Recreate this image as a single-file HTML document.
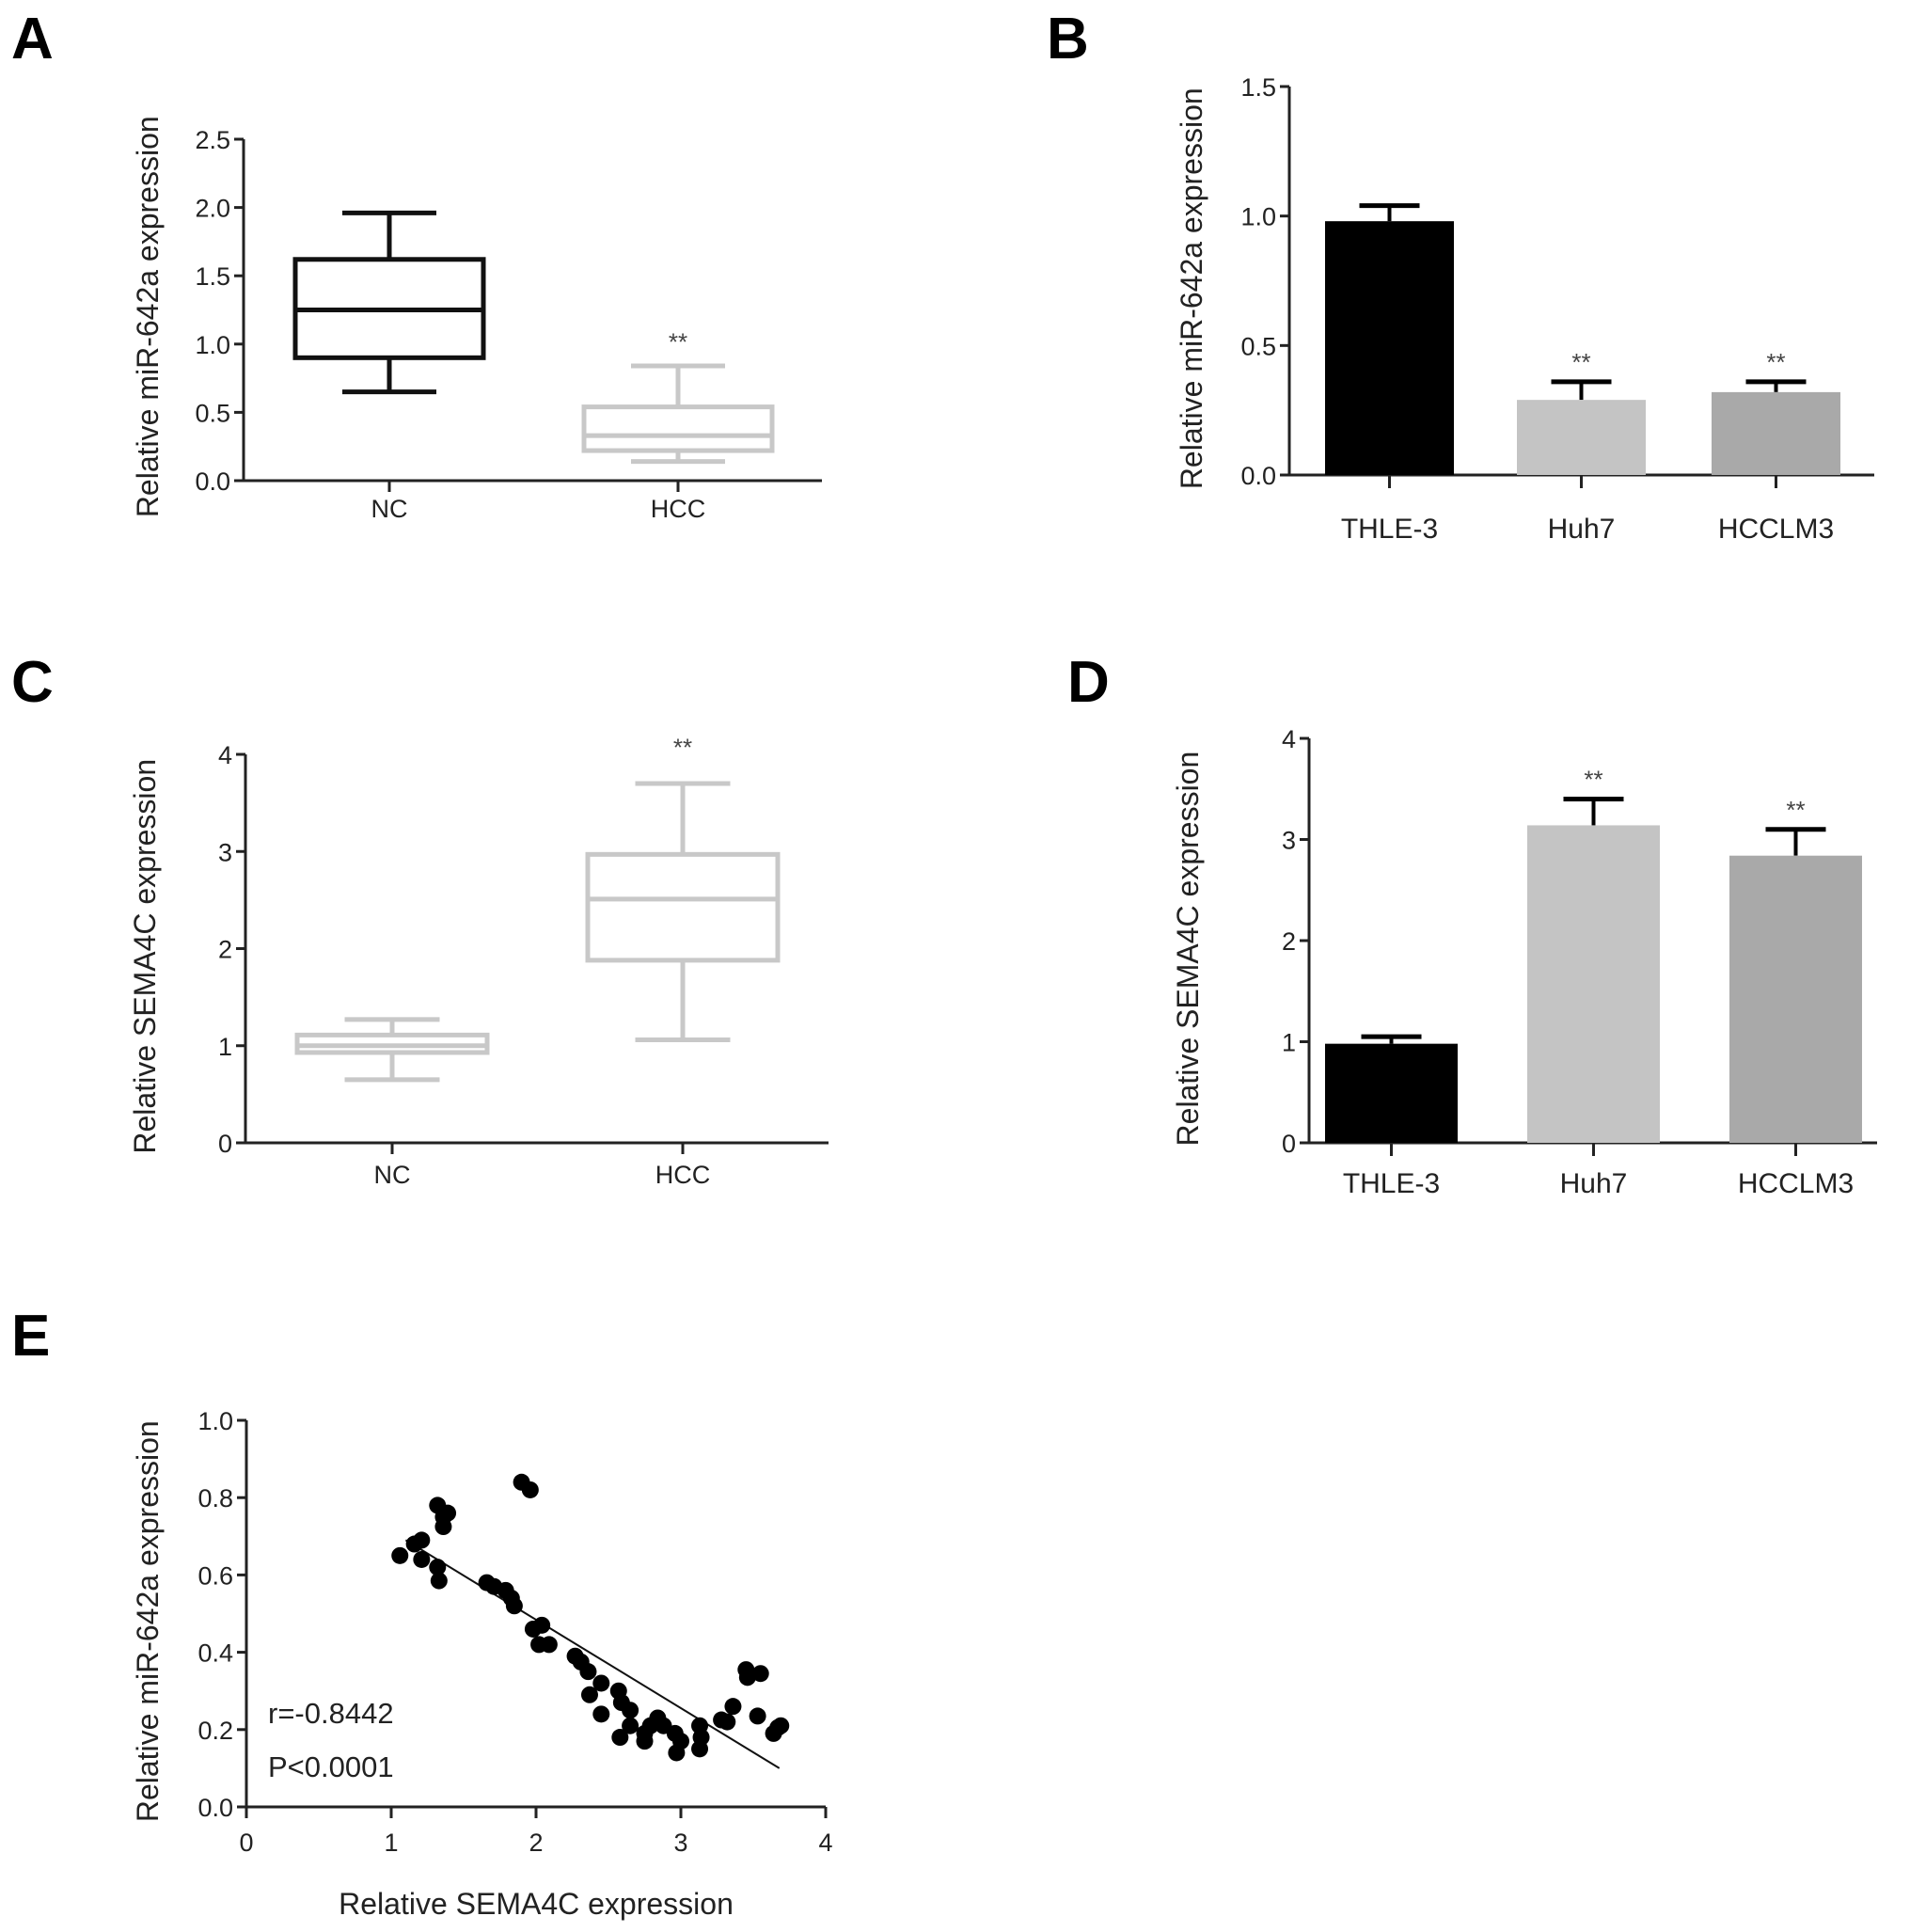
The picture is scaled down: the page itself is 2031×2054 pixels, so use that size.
<!DOCTYPE html>
<html><head><meta charset="utf-8"><style>
html,body{margin:0;padding:0;background:#fff;}
svg{display:block;font-family:"Liberation Sans",sans-serif;}
</style></head><body>
<svg id="fig" width="2031" height="2054" viewBox="0 0 2031 2054" xmlns="http://www.w3.org/2000/svg"></svg>
<script>
// ---- Data ----
const boxCatsA = ["NC","HCC"];
const boxStatsA = [[0.65,0.90,1.25,1.62,1.96],[0.14,0.22,0.33,0.54,0.84]];
const yTicksA = ["0.0","0.5","1.0","1.5","2.0","2.5"];
const barCatsB = ["THLE-3","Huh7","HCCLM3"];
const barMeansB = [0.98,0.29,0.32];
const barErrB = [0.06,0.07,0.04];
const yTicksB = ["0.0","0.5","1.0","1.5"];
const boxCatsC = ["NC","HCC"];
const boxStatsC = [[0.65,0.93,1.00,1.11,1.27],[1.06,1.88,2.51,2.97,3.70]];
const yTicksC = ["0","1","2","3","4"];
const barCatsD = ["THLE-3","Huh7","HCCLM3"];
const barMeansD = [0.98,3.14,2.84];
const barErrD = [0.07,0.26,0.26];
const yTicksD = ["0","1","2","3","4"];
const scatterX = [1.06,1.16,1.21,1.21,1.32,1.33,1.32,1.36,1.39,1.36,1.90,1.96,1.66,1.71,1.79,1.83,1.85,1.98,2.04,2.02,2.09,2.27,2.31,2.36,2.37,2.45,2.45,2.57,2.59,2.58,2.65,2.65,2.75,2.75,2.79,2.84,2.88,2.96,2.97,3.00,3.13,3.13,3.14,3.28,3.32,3.36,3.45,3.46,3.55,3.53,3.64,3.67,3.69];
const scatterY = [0.65,0.68,0.69,0.64,0.62,0.585,0.78,0.725,0.76,0.75,0.84,0.82,0.58,0.57,0.56,0.54,0.52,0.46,0.47,0.42,0.42,0.39,0.375,0.35,0.29,0.32,0.24,0.30,0.27,0.18,0.25,0.21,0.19,0.17,0.21,0.23,0.21,0.19,0.14,0.17,0.21,0.15,0.18,0.225,0.22,0.26,0.355,0.335,0.345,0.235,0.19,0.205,0.21];
const fitLine = [[1.1,0.69],[3.68,0.10]];
const xTicksE = ["0","1","2","3","4"];
const yTicksE = ["0.0","0.2","0.4","0.6","0.8","1.0"];

const NS="http://www.w3.org/2000/svg";
const svg=document.getElementById('fig');
function el(tag,attrs,parent,text){const e=document.createElementNS(NS,tag);for(const k in attrs)e.setAttribute(k,attrs[k]);if(text!==undefined)e.textContent=text;(parent||svg).appendChild(e);return e;}

function panelLabel(t,x,y){
  const e=el('text',{x:x,y:y,'font-size':62,'font-weight':'bold'},svg,t);
  
  
}
function yAxis(g,ax,y0,y1,ticks,vmax,title,titleX,xEnd){
  const sy=v=>y0-(v/vmax)*(y0-y1);
  const a=el('line',{x1:ax,y1:y1,x2:ax,y2:y0,stroke:'#222','stroke-width':3},g);
  
  
  const xa=el('line',{x1:ax-10,y1:y0,x2:xEnd,y2:y0,stroke:'#222','stroke-width':3},g);
  
  
  ticks.forEach(t=>{
    const y=sy(parseFloat(t));
    el('line',{x1:ax-10,y1:y,x2:ax,y2:y,stroke:'#222','stroke-width':3},g);
    const tx=el('text',{x:ax-14,y:y+10,'font-size':27,'text-anchor':'end',fill:'#222'},g,t);
    
    
  });
  const tt=el('text',{x:0,y:0,'font-size':32,'text-anchor':'middle',fill:'#222',transform:`translate(${titleX},${(y0+y1)/2+(y0-y1)*0.02}) rotate(-90)`},g,title);
  
  
  return sy;
}
function boxPanel(name,ax,y0,y1,xEnd,ticks,vmax,title,titleX,cats,stats,centers,hw,colors,lw,starV,labelY){
  const g=el('g',{});
  
  
  const sy=yAxis(g,ax,y0,y1,ticks,vmax,title,titleX,xEnd);
  cats.forEach((c,i)=>{
    const cx=centers[i],s=stats[i],col=colors[i];
    el('line',{x1:cx,y1:y0,x2:cx,y2:y0+12,stroke:'#222','stroke-width':3},g);
    const lb=el('text',{x:cx,y:labelY,'font-size':27,'text-anchor':'middle',fill:'#222'},g,c);
    
    
    const bg=el('g',{},g);
    
    
    el('line',{x1:cx,y1:sy(s[0]),x2:cx,y2:sy(s[1]),stroke:col,'stroke-width':lw},bg);
    el('line',{x1:cx,y1:sy(s[3]),x2:cx,y2:sy(s[4]),stroke:col,'stroke-width':lw},bg);
    el('line',{x1:cx-hw/2,y1:sy(s[0]),x2:cx+hw/2,y2:sy(s[0]),stroke:col,'stroke-width':lw},bg);
    el('line',{x1:cx-hw/2,y1:sy(s[4]),x2:cx+hw/2,y2:sy(s[4]),stroke:col,'stroke-width':lw},bg);
    el('rect',{x:cx-hw,y:sy(s[3]),width:2*hw,height:sy(s[1])-sy(s[3]),fill:'none',stroke:col,'stroke-width':lw},bg);
    el('line',{x1:cx-hw,y1:sy(s[2]),x2:cx+hw,y2:sy(s[2]),stroke:col,'stroke-width':lw},bg);
  });
  const st=el('text',{x:centers[1],y:sy(starV)+14,'font-size':26,'text-anchor':'middle',fill:'#444'},g,'**');
  
  
}
function barPanel(name,ax,y0,y1,xEnd,ticks,vmax,title,titleX,cats,means,errs,x0s,bw,labelY){
  const g=el('g',{});
  
  
  const sy=yAxis(g,ax,y0,y1,ticks,vmax,title,titleX,xEnd);
  const fills=['#000','#c4c4c4','#a9a9a9'];
  cats.forEach((c,i)=>{
    const x=x0s[i],cx=x+bw/2,top=sy(means[i]),et=sy(means[i]+errs[i]);
    el('line',{x1:cx,y1:top,x2:cx,y2:et,stroke:'#000','stroke-width':4},g);
    el('line',{x1:cx-32,y1:et,x2:cx+32,y2:et,stroke:'#000','stroke-width':5},g);
    const b=el('rect',{x:x,y:top,width:bw,height:y0-top,fill:fills[i]},g);
    
    
    el('line',{x1:cx,y1:y0,x2:cx,y2:y0+14,stroke:'#222','stroke-width':3},g);
    const lb=el('text',{x:cx,y:labelY,'font-size':30,'text-anchor':'middle',fill:'#222'},g,c);
    
    
    if(i>0){
      const st=el('text',{x:cx,y:et-12,'font-size':26,'text-anchor':'middle',fill:'#444'},g,'**');
      
      
    }
  });
}

panelLabel('A',12,62); panelLabel('B',1113,62); panelLabel('C',12,746); panelLabel('D',1135,746); panelLabel('E',12,1441);

boxPanel('panel-a-boxplot',259,511,148,874,yTicksA,2.5,'Relative miR-642a expression',168,boxCatsA,boxStatsA,[414,721],100,['#111','#c8c8c8'],5,1.05,550);
barPanel('panel-b-barchart',1371,505,92,1993,yTicksB,1.5,'Relative miR-642a expression',1278,barCatsB,barMeansB,barErrB,[1409,1613,1820],137,572);
boxPanel('panel-c-boxplot',261,1215,802,881,yTicksC,4,'Relative SEMA4C expression',165,boxCatsC,boxStatsC,[417,726],101,['#c8c8c8','#c8c8c8'],5,4.12,1258);
barPanel('panel-d-barchart',1392,1215,785,1996,yTicksD,4,'Relative SEMA4C expression',1274,barCatsD,barMeansD,barErrD,[1409,1624,1839],141,1268);

// Panel E scatter
(function(){
  const g=el('g',{});
  
  
  const ax=262,axR=878,y0=1921,y1=1510;
  const sx=v=>ax+v/4*(axR-ax);
  const sy=yAxis(g,ax,y0,y1,yTicksE,1,'Relative miR-642a expression',168,axR);
  xTicksE.forEach(t=>{
    const x=sx(parseFloat(t));
    el('line',{x1:x,y1:y0,x2:x,y2:y0+12,stroke:'#222','stroke-width':3},g);
    const tx=el('text',{x:x,y:y0+47,'font-size':27,'text-anchor':'middle',fill:'#222'},g,t);
    
    
  });
  const xt=el('text',{x:570,y:2035,'font-size':32,'text-anchor':'middle',fill:'#222'},g,'Relative SEMA4C expression');
  
  
  const fl=el('line',{x1:sx(fitLine[0][0]),y1:sy(fitLine[0][1]),x2:sx(fitLine[1][0]),y2:sy(fitLine[1][1]),stroke:'#111','stroke-width':2},g);
  
  
  scatterX.forEach((v,i)=>{
    const c=el('circle',{cx:sx(v),cy:sy(scatterY[i]),r:9,fill:'#000'},g);
    
    
  });
  const r=el('text',{x:285,y:1832,'font-size':31,fill:'#222'},g,'r=-0.8442');
  
  
  const p=el('text',{x:285,y:1889,'font-size':31,fill:'#222'},g,'P<0.0001');
  
  
})();
</script>
</body></html>
